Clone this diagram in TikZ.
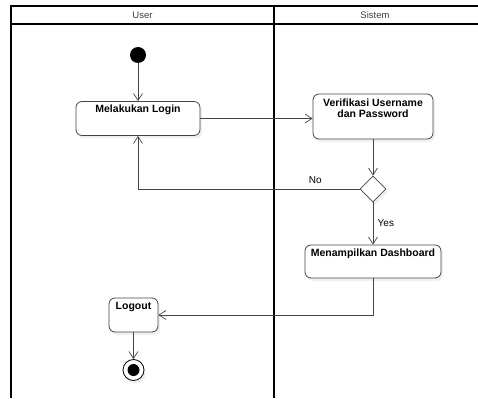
\documentclass[tikz,border=0pt]{standalone}
\usepackage{fontspec}
\setmainfont{Liberation Sans}
\usepackage{tikz}
\usetikzlibrary{calc, positioning, arrows.meta, shapes.geometric, shadows}
\usepackage{xcolor}
\definecolor{edgeC}{RGB}{68, 68, 68}
\definecolor{headC}{RGB}{60, 60, 60}

\begin{document}
\begin{tikzpicture}[x=1pt, y=-1pt, >={Straight Barb[length=7pt, width=9pt]},
  font=\fontsize{10.5}{11}\selectfont,
  actbox/.style={draw=edgeC, rounded corners=6pt, fill=white, line width=0.8pt,
    drop shadow={opacity=0.12, shadow xshift=2pt, shadow yshift=-3pt}},
  acttext/.style={font=\fontsize{10.5}{11}\selectfont\bfseries, align=center, inner sep=0pt, anchor=north},
  flow/.style={->, edgeC, line width=0.7pt},
  lane/.style={line width=1.4pt, black}]
  \useasboundingbox (0,0) rectangle (478,398);
  % swimlanes
  \draw[lane] (11,398) -- (11,6) -- (478,6);
  \draw[lane] (11,24) -- (478,24);
  \draw[lane] (274,6) -- (274,398);
  \node[headC, font=\fontsize{9.5}{10}\selectfont] (hUser) at (142.5,15) {User};
  \node[headC, font=\fontsize{9.5}{10}\selectfont] (hSistem) at (375,15) {Sistem};

  % activities
  \node[circle, fill=black, minimum size=16pt, inner sep=0pt] (start) at (138,55) {};
  \node[actbox, minimum width=124pt, minimum height=34pt] (login) at (138,118.5) {};
  \node[acttext] (tLogin) at ($(login.north)+(0,4)$) {Melakukan Login};
  \node[actbox, minimum width=120pt, minimum height=45pt] (verif) at (373,116.5) {};
  \node[acttext] (tVerif) at ($(verif.north)+(0,5)$) {Verifikasi Username\\dan Password};
  \node[diamond, draw=edgeC, fill=white, line width=0.8pt, minimum size=26pt, inner sep=0pt,
    drop shadow={opacity=0.12, shadow xshift=2pt, shadow yshift=-3pt}] (cek) at (373,189) {};
  \node[actbox, minimum width=136pt, minimum height=33pt] (dash) at (373,261.5) {};
  \node[acttext] (tDash) at ($(dash.north)+(0,4)$) {Menampilkan Dashboard};
  \node[actbox, minimum width=49pt, minimum height=34pt] (logout) at (133.5,315) {};
  \node[acttext] (tLogout) at ($(logout.north)+(0,4)$) {Logout};
  \node[circle, draw=black, fill=white, line width=0.8pt, minimum size=21pt, inner sep=0pt,
    drop shadow={opacity=0.12, shadow xshift=2pt, shadow yshift=-3pt}] (stop) at (133.5,370) {};
  \node[circle, fill=black, minimum size=12pt, inner sep=0pt] (stopDot) at (stop) {};

  % flows
  \draw[flow] (start) -- (login.north);
  \draw[flow] (login.east) -- (login.east -| verif.west);
  \draw[flow] (verif.south) -- (cek.north);
  \draw[flow] (cek.west) -| (login.south)
    node[pos=0.1, anchor=south, yshift=2pt, black, font=\fontsize{10}{11}\selectfont] (lNo) {No};
  \draw[flow] (cek.south) -- (dash.north)
    node[midway, anchor=west, xshift=1pt, black, font=\fontsize{10}{11}\selectfont] (lYes) {Yes};
  \draw[flow] (dash.south) |- (logout.east);
  \draw[flow] (logout.south) -- (stop.north);
\end{tikzpicture}
\end{document}
